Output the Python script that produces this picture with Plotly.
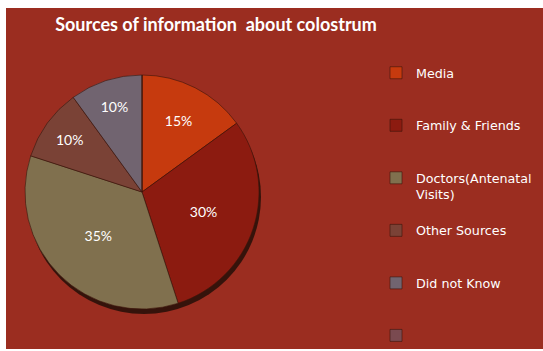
import plotly.graph_objects as go

categories = ["Media", "Family & Friends", "Doctors(Antenatal Visits)", "Other Sources", "Did not Know", " "]
values = [15, 30, 35, 10, 10, 0]
colors = ["#c63a0e", "#8c1b10", "#80704e", "#7a4236", "#716470", "#7a4a50"]
title_text = "Sources of information  about colostrum"

W, H = 543, 351
BG = "#9b2d20"

# legend display labels (wrap long one, pad lines for spacing)
def disp(lbl):
    if lbl.startswith("Doctors"):
        return "Doctors(Antenatal<br>Visits)<br> "
    return lbl + "<br> <br> "

display = [disp(c) for c in categories]

cx, cy, r = 142, 192, 117


def dom(dx=0, dy=0):
    return dict(x=[(cx + dx - r) / W, (cx + dx + r) / W],
                y=[(H - cy - dy - r) / H, (H - cy - dy + r) / H])


fig = go.Figure()
# 3D-like rim shadow under the pie
fig.add_trace(go.Pie(
    labels=["rim"], values=[sum(values)], sort=False,
    marker=dict(colors=["rgba(35,15,8,0.85)"], line=dict(width=0)),
    textinfo="none", hoverinfo="skip", showlegend=False,
    domain=dom(2, 5),
))
fig.add_trace(go.Pie(
    labels=display,
    values=values,
    sort=False,
    direction="clockwise",
    rotation=0,
    marker=dict(colors=colors, line=dict(color="rgba(60,20,10,0.6)", width=1)),
    textinfo="percent",
    texttemplate="%{percent:.0%}",
    textposition="inside",
    insidetextorientation="horizontal",
    textfont=dict(color="white", size=14, family="Lato"),
    domain=dom(),
    hoverinfo="label+percent",
))

fig.update_layout(
    width=W, height=H,
    margin=dict(l=0, r=0, t=0, b=0, autoexpand=False),
    paper_bgcolor="white",
    plot_bgcolor="white",
    font=dict(family="DejaVu Sans", color="white"),
    title=dict(text="<b>" + title_text + "</b>", x=216 / W, xanchor="center",
               y=1 - 25 / H, yanchor="middle", font=dict(size=18, color="white", family="Lato")),
    legend=dict(x=376 / W, xanchor="left", y=1 - 58 / H, yanchor="top",
                font=dict(size=12.7, color="white", family="DejaVu Sans"),
                valign="top", bgcolor="rgba(0,0,0,0)", itemwidth=30, traceorder="normal"),
    shapes=[dict(type="rect", xref="paper", yref="paper", x0=6 / W, x1=1.0,
                 y0=(H - 349) / H, y1=1 - 8 / H, fillcolor=BG, line=dict(width=0), layer="below")],
)

fig.write_html("out.html")
